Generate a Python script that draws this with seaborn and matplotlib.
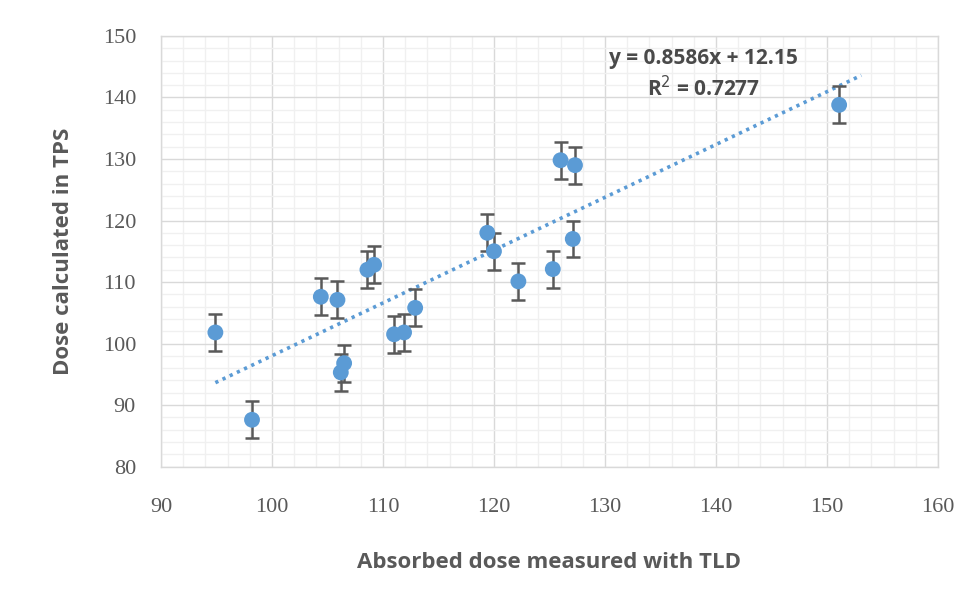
import numpy as np
import pandas as pd
import matplotlib
matplotlib.use("Agg")
import matplotlib.pyplot as plt
from matplotlib.ticker import MultipleLocator
import seaborn as sns

# values
tld = [94.9, 98.2, 104.4, 105.9, 106.2, 106.5, 108.6, 109.2, 111.0, 111.9,
       112.9, 119.4, 120.0, 122.2, 125.3, 127.1, 126.0, 127.3, 151.1]
tps = [101.8, 87.6, 107.6, 107.1, 95.3, 96.8, 112.0, 112.8, 101.5, 101.8,
       105.8, 118.0, 115.0, 110.1, 112.1, 117.0, 129.8, 129.0, 138.8]
err = 3.0
slope, intercept, r2 = 0.8586, 12.15, 0.7277
forecast = 2.0

df = pd.DataFrame({"tld": tld, "tps": tps})

blue = "#5B9BD5"
grey_txt = "#595959"

sns.set_style("white")
plt.rcParams["font.family"] = ["Open Sans", "DejaVu Sans"]

fig = plt.figure(figsize=(9.6, 6.08), dpi=100)
ax = fig.add_axes([0.1677, 0.2327, 0.8093, 0.7081])

# trendline (Excel style, dotted, forecast forward)
xl = np.array([df.tld.min(), df.tld.max() + forecast])
trend = pd.DataFrame({"x": xl, "y": slope * xl + intercept})
sns.lineplot(data=trend, x="x", y="y", ax=ax, color=blue, lw=2.6,
             dashes=False, zorder=2)
ax.lines[-1].set_linestyle((0, (0.9, 1.3)))

ax.errorbar(df.tld, df.tps, yerr=err, fmt="none", ecolor=grey_txt,
            elinewidth=1.8, capsize=5, capthick=1.8, zorder=3)
sns.scatterplot(data=df, x="tld", y="tps", ax=ax, color=blue, s=130,
                edgecolor="none", zorder=4)

ax.set_xlim(90, 160)
ax.set_ylim(80, 150)
ax.xaxis.set_major_locator(MultipleLocator(10))
ax.yaxis.set_major_locator(MultipleLocator(10))
ax.xaxis.set_minor_locator(MultipleLocator(2))
ax.yaxis.set_minor_locator(MultipleLocator(2))
ax.grid(which="major", color="#D9D9D9", lw=1.0, zorder=0)
ax.grid(which="minor", color="#F0F0F0", lw=1.0, zorder=0)
ax.set_axisbelow(True)
for s in ax.spines.values():
    s.set_color("#D9D9D9")
    s.set_linewidth(1.0)

ax.tick_params(which="both", length=0)
ax.tick_params(axis="x", pad=23, labelsize=16, labelcolor=grey_txt)
ax.tick_params(axis="y", pad=18, labelsize=16, labelcolor=grey_txt)
for lab in ax.get_xticklabels() + ax.get_yticklabels():
    lab.set_family(["Liberation Serif", "DejaVu Serif"])

ax.set_xlabel("Absorbed dose measured with TLD", fontsize=16,
              fontweight="bold", color=grey_txt, va="center")
ax.set_ylabel("Dose calculated in TPS", fontsize=16,
              fontweight="bold", color=grey_txt, va="center")
ax.xaxis.set_label_coords(0.5, -0.224)
ax.yaxis.set_label_coords(-0.126, 0.5)

ax.text(0.6976, 0.947, f"y = {slope}x + {intercept}", transform=ax.transAxes,
        ha="center", va="center", fontsize=15, fontweight="bold", color="#4a4a4a")
ax.text(0.6976, 0.878, f"R$^2$ = {r2}", transform=ax.transAxes,
        ha="center", va="center", fontsize=15, fontweight="bold", color="#4a4a4a")

fig.savefig("out.png", dpi=100)
